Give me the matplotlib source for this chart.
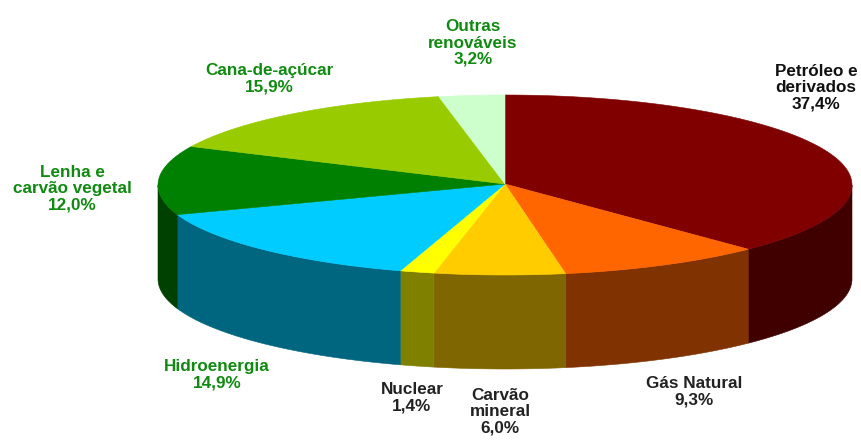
import numpy as np
import matplotlib
matplotlib.use("Agg")
import matplotlib.pyplot as plt
from matplotlib.patches import Polygon

categories = ["Petróleo e\nderivados", "Gás Natural", "Carvão\nmineral", "Nuclear",
              "Hidroenergia", "Lenha e\ncarvão vegetal", "Cana-de-açúcar", "Outras\nrenováveis"]
values = [37.4, 9.3, 6.0, 1.4, 14.9, 12.0, 15.9, 3.2]
value_labels = ["37,4%", "9,3%", "6,0%", "1,4%", "14,9%", "12,0%", "15,9%", "3,2%"]
top_colors = ["#800000", "#FF6600", "#FFCC00", "#FFFF00", "#00CCFF", "#008000", "#99CC00", "#CCFFCC"]
side_colors = ["#400000", "#803300", "#806600", "#808000", "#006680", "#004000", "#4D6600", "#668066"]
text_colors = ["#111111", "#222222", "#222222", "#222222", "#108a10", "#108a10", "#108a10", "#108a10"]
label_xy = [(816, 88), (694, 392), (500, 412), (412, 398), (217, 375), (72, 189), (269, 79), (473, 43)]
# small display shift of each slice boundary, mimicking the 3-D projection of the original
boundary_shift_deg = [0, 1, 2, 2.3, 3, 2.6, 4, 0.5, 0]

cx, cy, rx, ry, depth = 505, 185, 347, 90, 94
apex_y = 184

fig = plt.figure(figsize=(8.62, 4.40), dpi=100)
ax = fig.add_axes([0, 0, 1, 1])
ax.set_xlim(0, 862)
ax.set_ylim(440, 0)
ax.axis("off")

def pts(t):
    return cx + rx * np.sin(t), cy - ry * np.cos(t)

edges = np.radians(np.concatenate([[0], np.cumsum(values)]) / sum(values) * 360 + np.array(boundary_shift_deg))

# side walls: visible part of the rim (t between 90 and 270 degrees)
for i in range(len(values)):
    a, b = max(edges[i], np.pi / 2), min(edges[i + 1], 3 * np.pi / 2)
    if a < b:
        t = np.linspace(a, b, 80)
        x, y = pts(t)
        verts = np.r_[np.c_[x, y], np.c_[x, y + depth][::-1]]
        ax.add_patch(Polygon(verts, closed=True, fc=side_colors[i], ec=side_colors[i], lw=0.4))

# top faces
for i in range(len(values)):
    t = np.linspace(edges[i], edges[i + 1], 120)
    x, y = pts(t)
    verts = np.r_[[[cx, apex_y]], np.c_[x, y]]
    ax.add_patch(Polygon(verts, closed=True, fc=top_colors[i], ec=top_colors[i], lw=0.4))

for name, val, col, (lx, ly) in zip(categories, value_labels, text_colors, label_xy):
    ax.text(lx, ly, name + "\n" + val, ha="center", va="center", color=col,
            fontsize=12.3, fontweight="bold", family="Liberation Sans", linespacing=1.12)

fig.savefig("out.png", dpi=100)
